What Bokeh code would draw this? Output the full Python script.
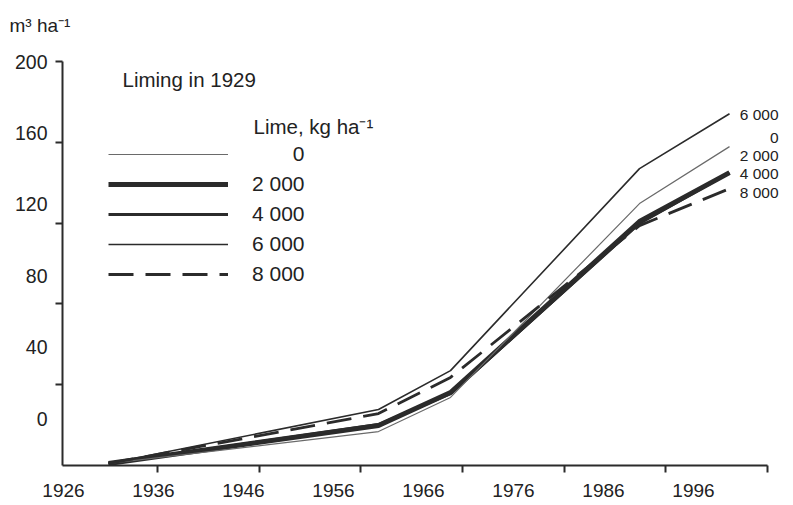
from bokeh.plotting import figure
from bokeh.models import (Range1d, LinearAxis, FixedTicker, Legend, LegendItem,
                          Label, Title, CustomJSTickFormatter)
from bokeh.embed import file_html
from bokeh.resources import INLINE

# ---- data (stand volume, m3 ha-1) ----
years = [1931, 1961, 1969, 1990, 2000]
lime_0 = [1.0, 16.8, 33.7, 129.7, 157.9]
lime_2000 = [1.0, 19.8, 36.1, 120.8, 145.0]
lime_4000 = [1.0, 20.3, 35.6, 119.8, 145.0]
lime_6000 = [1.0, 27.7, 47.0, 147.0, 174.2]
lime_8000 = [1.0, 25.7, 43.6, 118.8, 137.1]

series_labels = ["0", "2 000", "4 000", "6 000", "8 000"]
x_label_years = [1926, 1936, 1946, 1956, 1966, 1976, 1986, 1996]
x_tick_years = [1936, 1946, 1956, 1966, 1976, 1986, 1996]
y_label_values = [0, 40, 80, 120, 160, 200]
y_tick_values = [40, 80, 120, 160, 200]

DARK = "#2b2b2b"
TEXT = "#222222"
FONT = "Liberation Sans"

p = figure(width=793, height=505, output_backend="svg", toolbar_location=None,
           x_range=Range1d(1925.889, 2007.11), y_range=Range1d(0, 200.05),
           x_axis_location=None, y_axis_location=None,
           min_border_left=62, min_border_right=0, min_border_top=61,
           min_border_bottom=40)
p.outline_line_color = None
p.grid.visible = False
p.background_fill_color = "white"
p.border_fill_color = "white"

p.extra_x_ranges = {"xtick": Range1d(1926.656, 1998.557)}
p.extra_y_ranges = {"ylab": Range1d(-26.33, 200.01)}

blank = CustomJSTickFormatter(code="return ''")

# x axis: line + ticks
ax_t = LinearAxis(x_range_name="xtick", bounds=(1926.656, 1996.0),
                  ticker=FixedTicker(ticks=x_tick_years, minor_ticks=[]),
                  formatter=blank,
                  axis_line_width=2, axis_line_color=DARK,
                  major_tick_line_width=2, major_tick_line_color=DARK,
                  major_tick_out=7, major_tick_in=0,
                  minor_tick_out=0, minor_tick_in=0,
                  major_label_text_font_size="0px", major_label_standoff=0)
p.add_layout(ax_t, "below")
# x axis: labels
ax_l = LinearAxis(ticker=FixedTicker(ticks=x_label_years, minor_ticks=[]),
                  axis_line_color=None, major_tick_line_color=None,
                  minor_tick_line_color=None,
                  major_tick_out=0, major_tick_in=0,
                  minor_tick_out=0, minor_tick_in=0,
                  major_label_standoff=11,
                  major_label_text_font=FONT, major_label_text_font_size="19px",
                  major_label_text_color=TEXT)
p.add_layout(ax_l, "below")

# y axis: line + ticks
ay_t = LinearAxis(ticker=FixedTicker(ticks=y_tick_values, minor_ticks=[]),
                  formatter=blank,
                  axis_line_width=2, axis_line_color=DARK,
                  major_tick_line_width=2, major_tick_line_color=DARK,
                  major_tick_out=7, major_tick_in=0,
                  minor_tick_out=0, minor_tick_in=0,
                  major_label_text_font_size="0px", major_label_standoff=0)
p.add_layout(ay_t, "left")
# y axis: labels
ay_l = LinearAxis(y_range_name="ylab",
                  ticker=FixedTicker(ticks=y_label_values, minor_ticks=[]),
                  axis_line_color=None, major_tick_line_color=None,
                  minor_tick_line_color=None,
                  major_tick_out=0, major_tick_in=0,
                  minor_tick_out=0, minor_tick_in=0,
                  major_label_standoff=8,
                  major_label_text_font=FONT, major_label_text_font_size="19.5px",
                  major_label_text_color=TEXT)
p.add_layout(ay_l, "left")

# spacer (nearest the frame) then the unit title above it
p.add_layout(Title(text=" ", standoff=1, text_font=FONT, text_font_size="19px"), "above")
p.add_layout(Title(text="m\u00b3 ha\u207b\u00b9", align="left", offset=-53,
                   vertical_align="top", standoff=0,
                   text_font=FONT, text_font_size="19px",
                   text_font_style="normal", text_color=TEXT), "above")

# ---- series ----
r2000 = p.line(years, lime_2000, line_color=DARK, line_width=5)
r4000 = p.line(years, lime_4000, line_color=DARK, line_width=2.8)
r0 = p.line(years, lime_0, line_color="#6a6a6a", line_width=1.2)
r6000 = p.line(years, lime_6000, line_color=DARK, line_width=1.6)
r8000 = p.line(years, lime_8000, line_color=DARK, line_width=2.8, line_dash="25 12")

renderers = [r0, r2000, r4000, r6000, r8000]
# pad "0" with figure spaces so it right-aligns with "2 000"
legend_texts = ["\u2007 \u2007\u2007" + series_labels[0]] + series_labels[1:]
legend = Legend(items=[LegendItem(label=t, renderers=[r]) for t, r in zip(legend_texts, renderers)],
                location=(46, 176), orientation="vertical",
                border_line_color=None, background_fill_alpha=0,
                padding=0, margin=0, spacing=0,
                glyph_width=120, glyph_height=30, label_height=30,
                label_standoff=24,
                label_text_font=FONT, label_text_font_size="21px",
                label_text_color=TEXT)
p.add_layout(legend)

def add_label(text, x, y, size="20.5px", align="left"):
    p.add_layout(Label(x=x, y=y, x_units="screen", y_units="screen", text=text,
                       text_font=FONT, text_font_size=size, text_color=TEXT,
                       text_align=align, text_baseline="middle"))

add_label("Liming in 1929", 60, 386)
add_label("Lime, kg ha\u207b\u00b9", 191, 339)

# end-of-line labels
end_labels = ["6 000", "0", "2 000", "4 000", "8 000"]
end_y = [351, 328, 310, 292, 273]
for t, yy in zip(end_labels, end_y):
    add_label(t, 716, yy, size="15.5px", align="right")

open("out.html", "w").write(file_html(p, INLINE))
